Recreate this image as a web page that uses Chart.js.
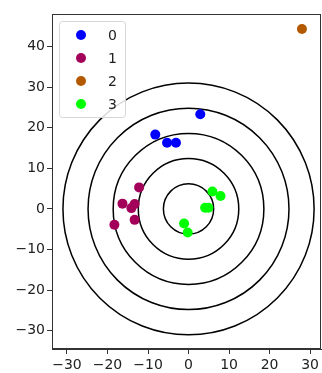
<!DOCTYPE html>
<html>
<head>
<meta charset="utf-8">
<script src="https://cdn.jsdelivr.net/npm/chart.js@4"></script>
<style>
  html, body { margin: 0; padding: 0; background: #fff; overflow: hidden; }
  canvas { display: block; }
</style>
</head>
<body>
<!-- canvas is 4px wider than the window: Chart.js keeps that much room right of the plot for the last x label -->
<canvas id="js-chart-scatter" width="326" height="373"></canvas>
<script>
// Data
const seriesLabels = ['0', '1', '2', '3'];
const seriesColors = ['#0000ff', '#a3005a', '#b35900', '#00ff00'];
const xValues = [
  [2.9, -8.2, -5.3, -3.1],
  [-12.2, -16.3, -14.1, -13.3, -13.3, -18.3],
  [28.0],
  [5.9, 7.9, 4.1, 4.9, -1.1, -0.2]
];
const yValues = [
  [23.3, 18.3, 16.3, 16.3],
  [5.3, 1.3, 0.2, 1.2, -2.7, -3.9],
  [44.3],
  [4.3, 3.2, 0.3, 0.3, -3.6, -5.8]
];
const ringRadii = [6.2, 12.4, 18.6, 24.8, 31];
const xTicks = [-30, -20, -10, 0, 10, 20, 30];
const yTicks = [-30, -20, -10, 0, 10, 20, 30, 40];

const fontFamily = '"DejaVu Sans", sans-serif';
const axisColor = '#333';

// Concentric rings, drawn in data units through the scales
const ringsPlugin = {
  id: 'rings',
  beforeDatasetsDraw(chart) {
    const {ctx, chartArea, scales} = chart;
    const cx = scales.x.getPixelForValue(0);
    const cy = scales.y.getPixelForValue(0);
    ctx.save();
    ctx.beginPath();
    ctx.rect(chartArea.left, chartArea.top, chartArea.width, chartArea.height);
    ctx.clip();
    ctx.strokeStyle = '#000';
    ctx.lineWidth = 1.5;
    ringRadii.forEach(r => {
      const rx = Math.abs(scales.x.getPixelForValue(r) - cx);
      const ry = Math.abs(scales.y.getPixelForValue(r) - cy);
      ctx.beginPath();
      ctx.ellipse(cx, cy, rx, ry, 0, 0, Math.PI * 2);
      ctx.stroke();
    });
    ctx.restore();
  }
};

// Box frame and legend in the upper left corner
const frameLegendPlugin = {
  id: 'frameLegend',
  afterDraw(chart) {
    const {ctx, chartArea} = chart;
    ctx.save();
    ctx.strokeStyle = axisColor;
    ctx.lineWidth = 1;
    ctx.strokeRect(chartArea.left + 0.5, chartArea.top + 0.5, chartArea.width - 1, chartArea.height - 1);

    const bx = chartArea.left + 7.5, by = chartArea.top + 7.5, bw = 66, bh = 96;
    ctx.beginPath();
    ctx.roundRect(bx, by, bw, bh, 3);
    ctx.fillStyle = 'rgba(255,255,255,0.85)';
    ctx.fill();
    ctx.strokeStyle = '#d6d6d6';
    ctx.stroke();

    ctx.font = '14px ' + fontFamily;
    ctx.textBaseline = 'middle';
    ctx.textAlign = 'left';
    chart.data.datasets.forEach((ds, i) => {
      const y = by + 13.5 + i * 23;
      ctx.beginPath();
      ctx.arc(bx + 21.5, y, 5, 0, Math.PI * 2);
      ctx.fillStyle = ds.backgroundColor;
      ctx.fill();
      ctx.fillStyle = '#222';
      ctx.fillText(ds.label, bx + 48.5, y + 1);
    });
    ctx.restore();
  }
};

const tickFormat = v => String(v).replace('-', '\u2212');

let chartCon = document.getElementById('js-chart-scatter');

let chartData = {
  datasets: seriesLabels.map((label, i) => ({
    label: label,
    data: xValues[i].map((x, j) => ({x: x, y: yValues[i][j]})),
    backgroundColor: seriesColors[i],
    borderWidth: 0,
    pointRadius: 5,
    pointHoverRadius: 5
  }))
};

let chartScatter = new Chart(chartCon, {
  type: 'scatter',
  data: chartData,
  options: {
    responsive: false,
    animation: false,
    events: [],
    layout: {padding: {top: 14, right: 1, left: 0, bottom: 0}},
    plugins: {
      legend: {display: false},
      tooltip: {enabled: false}
    },
    scales: {
      x: {
        type: 'linear',
        min: -33.7,
        max: 32.7,
        afterBuildTicks: scale => { scale.ticks = xTicks.map(v => ({value: v})); },
        afterFit: scale => { scale.height = 24; },
        grid: {drawOnChartArea: false, drawTicks: true, tickLength: 5, color: axisColor},
        border: {display: true, color: axisColor},
        ticks: {
          color: '#222',
          padding: 3,
          maxRotation: 0,
          font: {family: fontFamily, size: 14},
          callback: tickFormat
        }
      },
      y: {
        type: 'linear',
        min: -34.5,
        max: 48,
        afterBuildTicks: scale => { scale.ticks = yTicks.map(v => ({value: v})); },
        afterFit: scale => {
          scale.width = 52;
          scale.paddingTop = 0;
          scale.paddingBottom = 0;
        },
        grid: {drawOnChartArea: false, drawTicks: true, tickLength: 5, color: axisColor},
        border: {display: true, color: axisColor},
        ticks: {
          color: '#222',
          padding: 2,
          font: {family: fontFamily, size: 14},
          callback: tickFormat
        }
      }
    }
  },
  plugins: [ringsPlugin, frameLegendPlugin]
});
</script>
</body>
</html>
